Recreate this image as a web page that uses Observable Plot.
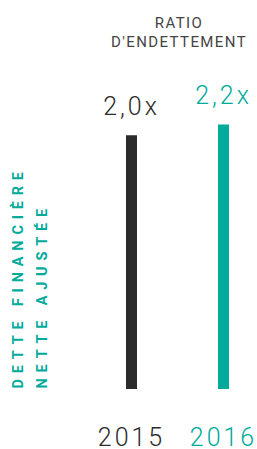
<!DOCTYPE html>
<html>
<head>
<meta charset="utf-8">
<script src="https://cdn.jsdelivr.net/npm/d3@7"></script>
<script src="https://cdn.jsdelivr.net/npm/@observablehq/plot@0.6"></script>
<style>
  html, body { margin: 0; padding: 0; background: #fff; }
  #chart svg { display: block; }
</style>
</head>
<body>
<div id="chart"></div>
<script>
const years = ["2015", "2016"];
const ratios = [2.0, 2.2];
const titleLines = ["RATIO", "D'ENDETTEMENT"];
const sideLabels = ["DETTE FINANCIÈRE", "NETTE AJUSTÉE"];
const colors = ["#2b2b2b", "#00ab9b"];
const yBase = -2.75;

const data = years.map((year, i) => ({year, value: ratios[i]}));
const fmt = v => v.toFixed(1).replace(".", ",") + "x";

const titleBaselines = [27, 46];
const sideBaselines = [22, 46];

const plot = Plot.plot({
  width: 257,
  height: 449,
  margin: 0,
  x: {type: "point", domain: years, range: [130.5, 222.5], padding: 0, axis: null},
  y: {domain: [yBase, 2.2], range: [389, 124.5], axis: null},
  color: {domain: years, range: colors},
  style: {fontFamily: "Roboto, sans-serif", background: "#fff"},
  marks: [
    Plot.ruleX(data, {x: "year", y1: () => yBase, y2: "value", stroke: "year", strokeWidth: 11}),
    Plot.text(data, {x: "year", y: "value", text: d => fmt(d.value), fill: "year",
      lineAnchor: "bottom", dy: -21, fontSize: 25, fontWeight: 300}),
    Plot.text(data, {x: "year", text: "year", fill: "year", frameAnchor: "bottom",
      lineAnchor: "bottom", dy: -4, fontSize: 25, fontWeight: 300}),
    ...titleLines.map((line, i) => Plot.text([line], {text: d => d, frameAnchor: "top",
      dx: 50, dy: titleBaselines[i], textAnchor: "middle", lineAnchor: "bottom",
      fill: "#444", fontSize: 15, fontWeight: 400})),
    ...sideLabels.map((line, i) => Plot.text([line], {text: d => d, frameAnchor: "bottom-left",
      dx: sideBaselines[i], dy: -61, rotate: -90, textAnchor: "start", lineAnchor: "bottom",
      fill: "#00ab9b", fontSize: 14.5, fontWeight: 700}))
  ]
});

d3.select(plot).selectAll("text").each(function() {
  const t = this.textContent;
  const el = d3.select(this);
  if (titleLines.includes(t)) el.style("letter-spacing", "1.4px");
  else if (sideLabels.includes(t)) el.style("letter-spacing", "5.8px");
  else el.style("letter-spacing", "3px");
});
document.getElementById("chart").appendChild(plot);
</script>
</body>
</html>
